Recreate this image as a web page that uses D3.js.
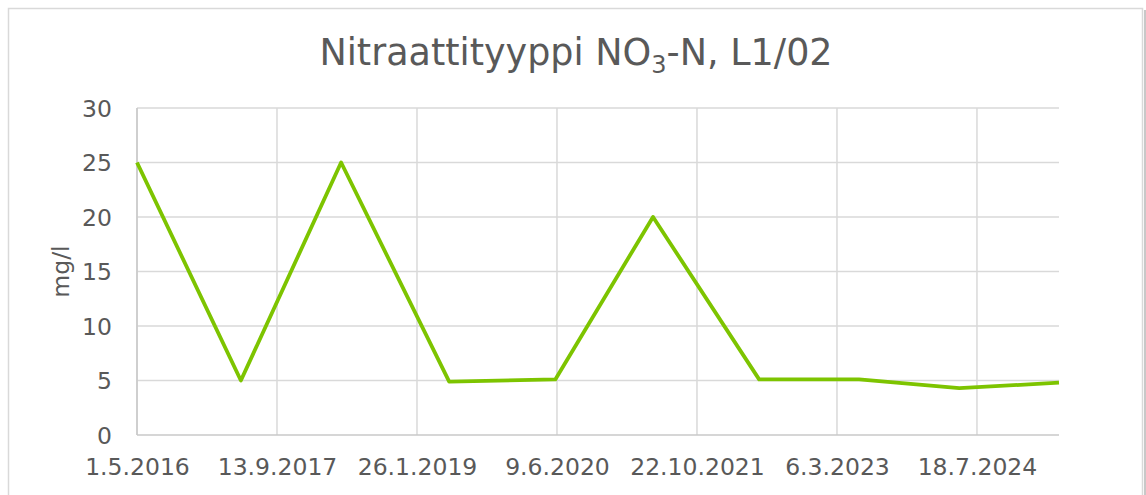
<!DOCTYPE html>
<html>
<head>
<meta charset="utf-8">
<script src="https://cdn.jsdelivr.net/npm/d3@7"></script>
<style>
    body { margin: 0; background: #ffffff; }
    text { font-family: "DejaVu Sans", Verdana, sans-serif; fill: #595959; }
</style>
</head>
<body>
<svg id="vis"></svg>
<script>
// sample dates (d.m.yyyy) and nitrate values, mg/l
const sampleDates = ["1.5.2016", "7.5.2017", "30.4.2018", "21.5.2019", "3.6.2020",
    "18.5.2021", "1.6.2022", "24.5.2023", "16.5.2024", "7.5.2025"];
const nitrateValues = [25, 5, 25, 4.9, 5.1, 20, 5.1, 5.1, 4.3, 4.8];

// axis ticks
const xTickLabels = ["1.5.2016", "13.9.2017", "26.1.2019", "9.6.2020", "22.10.2021", "6.3.2023", "18.7.2024"];
const yTicks = [0, 5, 10, 15, 20, 25, 30];

const WIDTH = 1146, HEIGHT = 495;
const MARGINS = {top: 108, right: 87, bottom: 60, left: 137};

const parseDate = d3.timeParse("%-d.%-m.%Y");

function setup(){
    let svg = d3.select("#vis")
        .attr("width", WIDTH)
        .attr("height", HEIGHT);

    // chart frame + a little shadow on the right
    svg.append("rect")
        .attr("x", 1144).attr("y", 10)
        .attr("width", 2).attr("height", HEIGHT)
        .attr("fill", "#c8c8c8");
    svg.append("rect")
        .attr("x", 8.5).attr("y", 8.5)
        .attr("width", 1134).attr("height", HEIGHT)
        .attr("fill", "#ffffff")
        .attr("stroke", "#d9d9d9")
        .attr("stroke-width", 1.5);

    let data = sampleDates.map(function(d, i){
        return {date: parseDate(d), value: nitrateValues[i]};
    });

    let x = d3.scaleTime()
        .domain(d3.extent(data, function(d){ return d.date; }))
        .range([MARGINS.left, WIDTH - MARGINS.right]);

    let y = d3.scaleLinear()
        .domain([0, 30])
        .range([HEIGHT - MARGINS.bottom, MARGINS.top]);

    let xTicks = xTickLabels.map(parseDate);

    // horizontal gridlines
    svg.append("g")
        .selectAll("line")
        .data(yTicks.filter(function(t){ return t > 0; }))
        .enter()
        .append("line")
        .attr("x1", MARGINS.left).attr("x2", WIDTH - MARGINS.right)
        .attr("y1", function(d){ return y(d); }).attr("y2", function(d){ return y(d); })
        .attr("stroke", "#d9d9d9")
        .attr("stroke-width", 1.5);

    // vertical gridlines
    svg.append("g")
        .selectAll("line")
        .data(xTicks)
        .enter()
        .append("line")
        .attr("x1", function(d){ return x(d); }).attr("x2", function(d){ return x(d); })
        .attr("y1", MARGINS.top).attr("y2", y(0))
        .attr("stroke", "#d9d9d9")
        .attr("stroke-width", 1.5);

    // axes
    let xAxis = svg.append("g")
        .attr("transform", "translate(0," + y(0) + ")")
        .call(d3.axisBottom(x).tickValues(xTicks).tickSize(0)
            .tickFormat(function(d, i){ return xTickLabels[i]; }));
    xAxis.select(".domain")
        .attr("d", "M" + MARGINS.left + ",0H" + (WIDTH - MARGINS.right))
        .attr("stroke", "#c8c8c8").attr("stroke-width", 1.5);
    xAxis.selectAll("text")
        .attr("dy", 0).attr("y", 40)
        .style("font-size", "23.5px").style("fill", "#595959");

    let yAxis = svg.append("g")
        .attr("transform", "translate(" + MARGINS.left + ",0)")
        .call(d3.axisLeft(y).tickValues(yTicks).tickSize(0));
    yAxis.select(".domain")
        .attr("d", "M0," + MARGINS.top + "V" + y(0))
        .attr("stroke", "#c8c8c8").attr("stroke-width", 1.5);
    yAxis.selectAll("text")
        .attr("x", -25).attr("dy", "0.35em")
        .style("font-size", "23.5px").style("fill", "#595959");
    svg.selectAll(".tick text").attr("font-family", null);

    // the series
    let line = d3.line()
        .x(function(d){ return x(d.date); })
        .y(function(d){ return y(d.value); });

    svg.append("path")
        .datum(data)
        .attr("d", line)
        .attr("fill", "none")
        .attr("stroke", "#7dc400")
        .attr("stroke-width", 3.8)
        .attr("stroke-linejoin", "round");

    // titles
    let title = svg.append("text")
        .attr("x", 576).attr("y", 65)
        .attr("text-anchor", "middle")
        .style("font-size", "36.5px");
    title.append("tspan").text("Nitraattityyppi NO");
    title.append("tspan").attr("dy", 8).style("font-size", "24px").text("3");
    title.append("tspan").attr("dy", -8).text("-N, L1/02");

    svg.append("text")
        .attr("transform", "translate(69," + ((MARGINS.top + y(0)) / 2) + ") rotate(-90)")
        .attr("text-anchor", "middle")
        .style("font-size", "23.5px")
        .text("mg/l");
}

window.onload = function(){
    setup();
};
</script>
</body>
</html>
